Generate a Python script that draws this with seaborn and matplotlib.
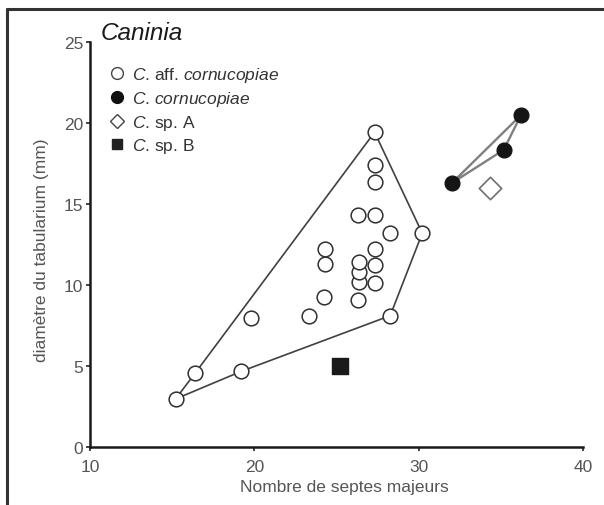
import matplotlib
matplotlib.use("Agg")
import matplotlib.pyplot as plt
import seaborn as sns
import pandas as pd
from matplotlib.lines import Line2D

sns.set_theme(style="white")
plt.rcParams['font.family'] = ['Liberation Sans', 'DejaVu Sans']
plt.rcParams['mathtext.fontset'] = 'custom'
plt.rcParams['mathtext.it'] = 'Liberation Sans:italic'
plt.rcParams['mathtext.rm'] = 'Liberation Sans'

# --- data ---
aff_x = [15.2, 16.4, 19.2, 19.8, 23.3, 24.2, 24.3, 24.3, 26.3, 26.35, 26.35, 26.35,
         26.3, 27.3, 27.3, 27.3, 27.3, 27.3, 27.3, 27.3, 28.25, 28.25, 30.2]
aff_y = [2.95, 4.56, 4.66, 7.94, 8.08, 9.24, 11.3, 12.2, 9.05, 10.2, 10.8, 11.44,
         14.3, 19.44, 17.44, 16.35, 14.3, 12.2, 11.25, 10.1, 13.2, 8.1, 13.2]
# hull of C. aff. cornucopiae (indices into the arrays above)
aff_hull = [0, 1, 13, 22, 21, 2, 0]

corn_x = [32.0, 35.15, 36.2]
corn_y = [16.3, 18.35, 20.5]
corn_hull = [0, 2, 1, 0]

spA_x = [34.3]
spA_y = [16.0]
spB_x = [25.2]
spB_y = [4.97]

xticks = [10, 20, 30, 40]
yticks = [0, 5, 10, 15, 20, 25]

labels = [r"$\it{C}$. aff. $\it{cornucopiae}$",
          r"$\it{C}$. $\it{cornucopiae}$",
          r"$\it{C}$. sp. A",
          r"$\it{C}$. sp. B"]

fig = plt.figure(figsize=(6.04, 5.06), dpi=100)
ax = fig.add_axes([0.149, 0.1152, 0.817, 0.7992])

# hull lines
ax.plot([aff_x[i] for i in aff_hull], [aff_y[i] for i in aff_hull],
        color='#404040', lw=1.2, zorder=1)
ax.plot([corn_x[i] for i in corn_hull], [corn_y[i] for i in corn_hull],
        color='#808080', lw=1.7, zorder=1)

df_aff = pd.DataFrame({'x': aff_x, 'y': aff_y})
df_corn = pd.DataFrame({'x': corn_x, 'y': corn_y})
df_A = pd.DataFrame({'x': spA_x, 'y': spA_y})
df_B = pd.DataFrame({'x': spB_x, 'y': spB_y})

sns.scatterplot(data=df_aff, x='x', y='y', ax=ax, marker='o', s=112,
                facecolor='white', edgecolor='#303030', linewidth=1.1, zorder=3)
sns.scatterplot(data=df_corn, x='x', y='y', ax=ax, marker='o', s=112,
                color='#151515', edgecolor='#151515', linewidth=1, zorder=3)
sns.scatterplot(data=df_A, x='x', y='y', ax=ax, marker='D', s=130,
                facecolor='white', edgecolor='#707070', linewidth=1.2, zorder=3)
sns.scatterplot(data=df_B, x='x', y='y', ax=ax, marker='s', s=125,
                color='#1a1a1a', edgecolor='#1a1a1a', linewidth=1, zorder=3)

ax.set_xlim(10, 40)
ax.set_ylim(0, 25)
ax.set_xticks(xticks)
ax.set_yticks(yticks)
ax.tick_params(axis='both', direction='out', length=3, width=1.2, colors='#222222',
               labelcolor='#555555', labelsize=12.5, bottom=True, left=True)
ax.tick_params(axis='x', pad=6)
ax.tick_params(axis='y', pad=2)
for s in ['top', 'right']:
    ax.spines[s].set_visible(False)
for s in ['left', 'bottom']:
    ax.spines[s].set_color('#1a1a1a')
    ax.spines[s].set_linewidth(1.8)

ax.set_xlabel("Nombre de septes majeurs", fontsize=12.5, color='#555555')
ax.set_ylabel("diamètre du tabularium (mm)", fontsize=12.5, color='#555555')
ax.xaxis.set_label_coords(0.516, -0.081)
ax.yaxis.set_label_coords(-0.084, 0.488)

ax.text(0.022, 1.025, "Caninia", transform=ax.transAxes, fontsize=17.5, style='italic',
        color='#1a1a1a', ha='left', va='center')

handles = [
    Line2D([], [], ls='none', marker='o', ms=8.5, mfc='white', mec='#444444', mew=1.0),
    Line2D([], [], ls='none', marker='o', ms=8.5, mfc='#111111', mec='#111111'),
    Line2D([], [], ls='none', marker='D', ms=7.5, mfc='white', mec='#444444', mew=1.0),
    Line2D([], [], ls='none', marker='s', ms=7.5, mfc='#222222', mec='#222222'),
]
leg = ax.legend(handles, labels, loc='upper left', bbox_to_anchor=(0.041, 0.943),
                frameon=False, fontsize=12.5, handlelength=0.8, handletextpad=0.45,
                labelspacing=0.27, borderaxespad=0, borderpad=0)
for t in leg.get_texts():
    t.set_color('#333333')

# figure frame (left and top only)
fig.add_artist(Line2D([0.0116, 0.0116], [0.0, 0.981], transform=fig.transFigure,
                      color='#333333', lw=2.2))
fig.add_artist(Line2D([0.0116, 1.0], [0.981, 0.981], transform=fig.transFigure,
                      color='#333333', lw=2.2))

fig.savefig("out.png", dpi=100)
